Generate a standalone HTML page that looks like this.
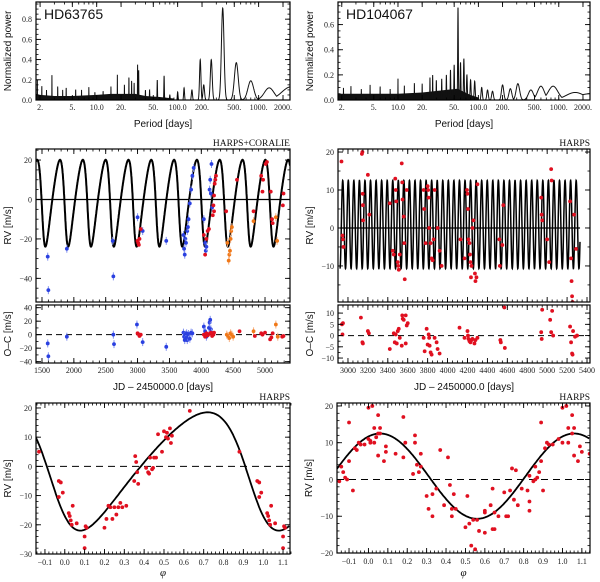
<!DOCTYPE html>
<html><head><meta charset="utf-8"><style>
body{margin:0;background:#fff}
svg{display:block}
.tk{font-family:"Liberation Serif",serif;font-size:8px;fill:#222}
.ax{font-family:"Liberation Sans",sans-serif;font-size:10px;fill:#111}
.hd{font-family:"Liberation Serif",serif;font-size:9.5px;fill:#111}
</style></head><body>
<svg id="fig" width="600" height="582" viewBox="0 0 600 582" xmlns="http://www.w3.org/2000/svg"></svg>
<script>
// ---------- DATA ----------
const pg1Env = [[1.8,0.06],[2,0.05],[3,0.04],[5,0.04],[10,0.05],[15,0.06],[20,0.06],[30,0.06],[40,0.04],[60,0.03],[90,0.015]];
const pg1Peaks = [[1.85,0.2],[2.1,0.15],[2.4,0.1],[2.8,0.25],[3.3,0.15],[3.8,0.1],[4.2,0.14],[5.5,0.12],[6.5,0.1],[8,0.13],[9.5,0.09],[12,0.1],[15,0.14],[18,0.25],[22,0.16],[25,0.24],[27,0.2],[29,0.17],[32,0.35],[33,0.3],[40,0.1],[45,0.1],[56,0.2],[68,0.24],[80,0.05],[100,0.08],[120,0.12],[150,0.1],[190,0.4],[210,0.15],[260,0.4],[360,0.91],[530,0.37],[800,0.19],[1350,0.12],[2500,0.13]];
const pg2Env = [[1.8,0.05],[10,0.05],[20,0.06],[40,0.08],[55,0.09],[80,0.04],[100,0.02]];
const pg2Peaks = [[2.1,0.1],[2.6,0.11],[3.5,0.1],[4.5,0.12],[6,0.12],[8,0.09],[10,0.17],[12,0.12],[16,0.14],[20,0.13],[25,0.18],[27,0.2],[30,0.16],[35,0.17],[40,0.2],[45,0.24],[50,0.28],[55.8,0.74],[60,0.3],[66,0.33],[72,0.2],[80,0.16],[90,0.15],[110,0.1],[130,0.08],[150,0.07],[200,0.12],[250,0.09],[310,0.13],[450,0.08],[600,0.11],[850,0.11],[1600,0.06],[2500,0.05]];

const blueT = [1590,1600,1890,2610,2620,3000,3080,3450,3720,3730,3740,3750,3760,3780,3790,3800,3820,3840,3860,3880,4040,4060,4070,4080,4130,4140,4150,4160,4170];
const blueRV = [-29,-46,-25,-21,-39,-9,-16,-21,-18,-25,-28,-20,-22,-16,-14,-10,-2,5,12,16,-10,-22,-26,-24,5,10,3,18,-4];
const redT = [3000,3010,3020,3030,3050,4040,4060,4080,4100,4120,4180,4190,4200,4200,4210,4220,4230,4390,4560,4820,4940,4960,4970,5010,5030,5090,5110,5120,5280,5290];
const redRV = [-21,-22,-23,-20,-15,-18,-28,-20,-16,-15,-8,-3,2,-6,8,10,12,-6,10,-6,12,4,10,18,19,4,-10,-12,-3,3];
const orT = [4410,4430,4440,4450,4460,4470,4480,4820,5170,5190];
const orRV = [-22,-31,-28,-26,-20,-16,-14,-11,-9,-21];
const blueResT = [1590,1600,1890,2620,2630,2990,3080,3450,3720,3730,3740,3750,3760,3770,3780,3790,3800,3820,3840,3860,4040,4060,4080,4120,4130,4140,4150,4160];
const blueRes = [-13,-32,-3,0,-14,15,-11,-18,3,-3,-8,0,-5,2,-8,-3,1,-6,3,2,12,5,-3,10,18,22,8,3];
const redResT = [3000,3010,3030,3050,4040,4060,4080,4100,4120,4150,4170,4190,4200,4600,4840,4940,4960,5000,5080,5100,5120,5270,5290];
const redRes = [2,1,-2,0,0,-3,2,-1,1,3,-2,0,3,5,-2,2,0,3,-7,-4,2,-3,-2];
const orResT = [4400,4420,4440,4460,4480,4500,4820,5170,5200];
const orRes = [0,-2,-5,2,0,-3,5,15,-3];

const hT = [2935,2945,2950,2955,3140,3145,3148,3150,3152,3200,3215,3420,3450,3460,3475,3480,3485,3500,3505,3510,3520,3540,3545,3548,3560,3565,3570,3590,3760,3765,3780,3800,3805,3810,3815,3830,3840,3850,3860,3870,3900,3920,3940,4130,4170,4195,4200,4205,4210,4220,4225,4230,4235,4240,4250,4260,4275,4280,4290,4300,4520,4525,4550,4560,4940,4945,4950,5000,5020,5040,5045,5230,5240,5245,5250,5255,5270,5290];
const hRV = [17.5,-2,-3,-5,19.5,20,9,6,2,14,3.5,6.5,-6,-7,13,10,7,-9,-10,-11,-7,17,12,7.5,3,-4,-13.5,10,10,5,-4,11,10,8,0,-4,-8,-8.5,-3,10,0,-6,-10,-3,-8,10,9,5,-3,-4,-7,-9,-13,-10,0,2,-12,-14,-13,11.5,-3,-10,-4.5,6,8,3.5,2,-3,-9,15.5,12.5,7,-8,-14,-18,-19.5,3.5,-5.5];
const hResT = [2940,2950,2945,3130,3145,3150,3200,3210,3420,3460,3470,3480,3490,3500,3510,3520,3540,3545,3550,3560,3580,3590,3600,3580,3760,3770,3790,3800,3810,3815,3820,3830,3840,3870,3890,3900,3920,4120,4170,4200,4205,4210,4220,4230,4240,4250,4270,4280,4300,4530,4535,4570,4575,4940,4945,4950,5030,5040,5050,5060,5230,5240,5250,5255,5260,5280,5300];
const hRes = [5,5.5,0.5,8,-3,-3.5,2,1,-6,1,-3,0.5,-3.5,2,3,-1,-4.5,9,7.5,7,9,4.5,5.5,-3.5,-1,-7,3,-4,0.5,-1,-4.5,-7.5,-8.5,-1,-3,-6,-8,3.5,-1,2,0,-1.5,-2.5,-3,-2,-1.5,-3.5,-2,-1,-2,-3,12.5,-5.5,1.5,-1.5,11.5,7,1.5,11,0,4,-3,-8,-8.5,2,-0.5,0];

const ph1 = [-0.13,-0.03,-0.02,-0.03,-0.01,0.02,0.025,0.03,0.035,0.04,0.06,0.1,0.1,0.105,0.11,0.2,0.21,0.22,0.23,0.24,0.25,0.26,0.27,0.28,0.29,0.31,0.35,0.355,0.36,0.365,0.37,0.41,0.42,0.425,0.43,0.44,0.445,0.45,0.46,0.47,0.49,0.5,0.51,0.515,0.52,0.53,0.535,0.54,0.63,0.88,0.97,0.98,0.98,0.99,1.02,1.025,1.03,1.035,1.04,1.06,1.1,1.1,1.105,1.11];
const ph1RV = [5,-5,-5.5,-10.5,-9,-16,-17,-18.5,-20,-13.5,-19.5,-28,-24,-20.5,-21,-21,-18,-13.5,-14,-18,-14,-16.5,-14,-12.5,-14,-13.5,-5,3.5,1.5,-2,-6,-0.5,-2,-2.5,3,-1,-0.5,3,3,11,5,12,10,11.5,9.5,13,8,10.5,19,5,-5,-5.5,-10.5,-9,-16,-17,-18.5,-20,-13.5,-19.5,-28,-24,-20.5,-21];
const ph2 = [-0.15,-0.14,-0.13,-0.12,-0.11,-0.1,-0.1,-0.08,-0.07,-0.06,-0.05,-0.04,-0.02,0.0,0.01,0.01,0.0,0.02,0.03,0.03,0.04,0.05,0.05,0.06,0.06,0.05,0.09,0.09,0.08,0.14,0.18,0.18,0.19,0.24,0.24,0.25,0.23,0.26,0.27,0.27,0.3,0.31,0.33,0.33,0.35,0.37,0.39,0.41,0.42,0.43,0.43,0.44,0.45,0.5,0.51,0.52,0.53,0.54,0.55,0.56,0.57,0.6,0.6,0.6,0.63,0.64,0.65,0.64,0.65,0.67,0.7,0.71,0.72,0.73,0.74,0.76,0.75,0.77,0.79,0.82,0.83,0.83,0.83,0.85,0.86,0.86,0.87,0.88,0.89,0.89,0.9,0.91,0.92,0.93,0.95,0.98,1.0,1.0,1.02,1.03,1.03,1.05,1.05,1.06,1.06,1.09,1.1,1.08,1.14];
const ph2RV = [-0.5,3.5,2,0.5,0,15.5,5,-3,8.5,8,10,9.5,9.5,11,10.5,10,19.5,20,14,10,11.5,17.5,12.5,14,12.5,6.5,9,7.5,5,7,17,6,10,12,10,4,1.5,2,3.5,7,-4.5,-8,-10,-4,-2.5,8,-7,6,-1.5,-8,-10,-4,-8,-13,-4.5,-12,-18,-11,-19,-11,-14,-9,-8.5,-14.5,-7,-2.5,-9,-13.5,-13.5,-10,-3.5,-10,-10,-3,3,2.5,-5.5,-7,-2.5,-3,-6,-8.5,1,-0.5,0,3.5,0.5,2,5,15.5,-3,8.5,10,9.5,9.5,11,10,19.5,20,14,10,17.5,12.5,14,6.5,9,7.5,5,7];

// orbital parameters (fit)
const fit1 = {P:358, e:0.24, w:111, Kt:22, Kp:20.25, phMax:0.72, tMax:1783};
const fit2 = {P:55.8, K:11.6, g:0.9, phMax:0.06, tRef:3000};
const baseline1 = 3800, baseline2 = 2400;

// ---------- HELPERS ----------
const NS='http://www.w3.org/2000/svg';
const svg=document.getElementById('fig');
function mk(tag,at,parent){const e=document.createElementNS(NS,tag);for(const k in at)e.setAttribute(k,at[k]);(parent||svg).appendChild(e);return e;}
function txt(x,y,s,cls,anchor,parent){const t=mk('text',{x:x,y:y,class:cls,'text-anchor':anchor||'middle'},parent);t.textContent=s;return t;}

function makeScale(d0,d1,r0,r1,log){
  if(log){const a=Math.log10(d0),b=Math.log10(d1);return v=>r0+(Math.log10(v)-a)/(b-a)*(r1-r0);}
  return v=>r0+(v-d0)/(d1-d0)*(r1-r0);
}
function frame(name,x0,y0,x1,y1){
  const g=mk('g',{});
  
  
  const c=mk('clipPath',{id:'c'+name},g);mk('rect',{x:x0,y:y0,width:x1-x0,height:y1-y0},c);
  return g;
}
function border(g,x0,y0,x1,y1){
  const r=mk('rect',{x:x0,y:y0,width:x1-x0,height:y1-y0,fill:'none',stroke:'#000','stroke-width':1.2},g);
  
  
}
function xticks(g,sx,y0,y1,majors,minors,labels,labelY,topTicks){
  minors.forEach(v=>{const x=sx(v);mk('line',{x1:x,x2:x,y1:y1,y2:y1-2.5,stroke:'#000','stroke-width':0.8},g);if(topTicks!==false)mk('line',{x1:x,x2:x,y1:y0,y2:y0+2.5,stroke:'#000','stroke-width':0.8},g);});
  majors.forEach((v,i)=>{const x=sx(v);mk('line',{x1:x,x2:x,y1:y1,y2:y1-5,stroke:'#000','stroke-width':0.9},g);if(topTicks!==false)mk('line',{x1:x,x2:x,y1:y0,y2:y0+5,stroke:'#000','stroke-width':0.9},g);
    if(labels){const t=txt(x,labelY,labels[i],'tk','middle',g);}});
}
function yticks(g,sy,x0,x1,majors,minors,labels){
  minors.forEach(v=>{const y=sy(v);mk('line',{x1:x0,x2:x0+2.5,y1:y,y2:y,stroke:'#000','stroke-width':0.8},g);mk('line',{x1:x1,x2:x1-2.5,y1:y,y2:y,stroke:'#000','stroke-width':0.8},g);});
  majors.forEach((v,i)=>{const y=sy(v);mk('line',{x1:x0,x2:x0+5,y1:y,y2:y,stroke:'#000','stroke-width':0.9},g);mk('line',{x1:x1,x2:x1-5,y1:y,y2:y,stroke:'#000','stroke-width':0.9},g);
    const t=txt(x0-4,y+3,labels[i],'tk','end',g);});
}
function range(a,b,s){const r=[];for(let v=a;v<=b+1e-9;v+=s)r.push(+v.toFixed(6));return r;}
function ytitle(x,y,s,name){const t=mk('text',{x:0,y:0,class:'ax','text-anchor':'middle',transform:`translate(${x},${y}) rotate(-90)`});t.textContent=s;}
function label(x,y,s,cls,anchor,name){const t=txt(x,y,s,cls,anchor);return t;}
function hline(g,sx,sy,x0,x1,v,dash,w,name){const l=mk('line',{x1:sx(x0),x2:sx(x1),y1:sy(v),y2:sy(v),stroke:'#000','stroke-width':w||1,'stroke-dasharray':dash||'none'},g);}
function points(g,sx,sy,xs,ys,col,ecol,err,name){
  xs.forEach((x,i)=>{const px=sx(x),py=sy(ys[i]);
    mk('line',{x1:px,x2:px,y1:py-err,y2:py+err,stroke:ecol,'stroke-width':1},g);
    const c=mk('circle',{cx:px,cy:py,r:1.9,fill:col},g);
    
    });
}
function logMinors(a,b){const r=[];for(let d=0;d<=4;d++)for(let k=1;k<10;k++){const v=k*Math.pow(10,d);if(v>=a&&v<=b)r.push(v);}return r;}

// Keplerian
function kep(M,e,w){let E=M;for(let i=0;i<30;i++)E=E-(E-e*Math.sin(E)-M)/(1-e*Math.cos(E));
  const nu=2*Math.atan(Math.sqrt((1+e)/(1-e))*Math.tan(E/2));return Math.cos(nu+w)+e*Math.cos(w);}
const W1=fit1.w*Math.PI/180;
let Mmax=0,vb=-9;for(let i=0;i<2000;i++){const M=i/2000*2*Math.PI;const v=kep(M,fit1.e,W1);if(v>vb){vb=v;Mmax=M;}}
function rv1(phase){const M=Mmax+2*Math.PI*(phase-fit1.phMax);return kep(((M%(2*Math.PI))+2*Math.PI)%(2*Math.PI),fit1.e,W1);}
function rv2(phase){return fit2.g+fit2.K*Math.cos(2*Math.PI*(phase-fit2.phMax));}

// ---------- PERIODOGRAMS ----------
function periodogram(name,x0,x1,y0,y1,d0,d1,ymax,env,peaks,T,yMaj,yLab,title){
  const g=frame(name,x0,y0,x1,y1);
  const sx=makeScale(d0,d1,x0,x1,true), sy=makeScale(0,ymax,y1,y0);
  const cg=mk('g',{'clip-path':`url(#c${name})`},g);
  let p=`M${sx(env[0][0])},${sy(0)} `+env.map(q=>`L${sx(q[0]).toFixed(1)},${sy(q[1]).toFixed(1)}`).join(' ')+` L${sx(env[env.length-1][0])},${sy(0)} Z`;
  const en=mk('path',{d:p,fill:'#111'},cg);
  // smooth peaks: width in log10 period ~ P/(T ln10)
  const a=Math.log10(d0),b=Math.log10(d1);let d='';
  for(let i=0;i<=3000;i++){const lp=a+(b-a)*i/3000;let v=0;
    peaks.forEach(q=>{const w=Math.max(q[0]/(T*2.3026)*0.55,0.0012);const z=(lp-Math.log10(q[0]))/w;const s=q[1]*Math.exp(-z*z);if(s>v)v=s;});
    d+=(d?'L':'M')+(x0+(x1-x0)*i/3000).toFixed(2)+','+sy(v).toFixed(2);}
  const ln=mk('path',{d:d,fill:'none',stroke:'#111','stroke-width':1},cg);
  const maj=[2,5,10,20,50,100,200,500,1000,2000],labs=['2.','5.','10.0','20.','50.','100.0','200.','500.','1000.','2000.'];
  xticks(g,sx,y0,y1,maj,logMinors(d0,d1),labs,y1+10);
  yticks(g,sy,x0,x1,yMaj,range(0,ymax,0.05),yLab);
  border(g,x0,y0,x1,y1);
  label(x0+8,y0+17,title,'ax','start','star-name').setAttribute('style','font-size:14px');
  label((x0+x1)/2,y1+27,'Period [days]','ax','middle','x-axis-title');
  ytitle(x0-25,(y0+y1)/2,'Normalized power','y-axis-title');
}
periodogram('periodogram-hd63765',36,290,2,100,1.78,2440,0.97,pg1Env,pg1Peaks,baseline1,[0,0.2,0.4,0.6,0.8],['0.0','0.2','0.4','0.6','0.8'],'HD63765');
periodogram('periodogram-hd104067',338,590,2,100,1.795,2446,0.78,pg2Env,pg2Peaks,baseline2,[0,0.2,0.4,0.6],['0.0','0.2','0.4','0.6'],'HD104067');

// ---------- RV TIME SERIES ----------
const RED='#e01020',REDE='#f08080',BLUE='#2a40e0',BLUEE='#8090f0',OR='#f07818',ORE='#f8b080';
(function(){
  const x0=36,x1=290,y0=149,y1=302,t0=1406,t1=5392;
  const g=frame('rv-hd63765',x0,y0,x1,y1);
  const sx=makeScale(t0,t1,x0,x1),sy=makeScale(-52,25.6,y1,y0);
  const cg=mk('g',{'clip-path':'url(#crv-hd63765)'},g);
  hline(cg,sx,sy,t0,t1,0,null,1.2,'zero-line');
  let d='';for(let t=t0;t<=t1;t+=2){const v=fit1.Kt*rv1((t-fit1.tMax)/fit1.P+fit1.phMax);d+=(d?'L':'M')+sx(t).toFixed(1)+','+sy(v).toFixed(1);}
  const c=mk('path',{d:d,fill:'none',stroke:'#000','stroke-width':2},cg);
  points(cg,sx,sy,blueT,blueRV,BLUE,BLUEE,4,'coralie98-point');
  points(cg,sx,sy,orT,orRV,OR,ORE,4,'coralie07-point');
  points(cg,sx,sy,redT,redRV,RED,REDE,1.5,'harps-point');
  xticks(g,sx,y0,y1,range(1500,5000,500),range(1500,5300,100),null,0);
  yticks(g,sy,x0,x1,[-40,-20,0,20],range(-50,25,5),['−40','−20','0','20']);
  border(g,x0,y0,x1,y1);
  ytitle(11,(y0+y1)/2,'RV [m/s]','y-axis-title');
  label(290,146,'HARPS+CORALIE','hd','end','instrument-label');
  const r0=305,r1=363;
  const g2=frame('oc-hd63765',x0,r0,x1,r1);
  const sy2=makeScale(-42,44,r1,r0);
  const cg2=mk('g',{'clip-path':'url(#coc-hd63765)'},g2);
  hline(cg2,sx,sy2,t0,t1,0,'6,4',1,'zero-line');
  points(cg2,sx,sy2,blueResT,blueRes,BLUE,BLUEE,4,'residual-point');
  points(cg2,sx,sy2,orResT,orRes,OR,ORE,4,'residual-point');
  points(cg2,sx,sy2,redResT,redRes,RED,REDE,1.5,'residual-point');
  xticks(g2,sx,r0,r1,range(1500,5000,500),range(1500,5300,100),['1500','2000','2500','3000','3500','4000','4500','5000'],r1+10);
  yticks(g2,sy2,x0,x1,[-40,-20,0,20,40],range(-40,40,10),['−40','−20','0','20','40']);
  border(g2,x0,r0,x1,r1);
  ytitle(11,(r0+r1)/2,'O–C [m/s]','y-axis-title');
  label((x0+x1)/2,390,'JD – 2450000.0 [days]','ax','middle','x-axis-title');
})();
(function(){
  const x0=338,x1=590,y0=149,y1=302,t0=2900,t1=5430;
  const g=frame('rv-hd104067',x0,y0,x1,y1);
  const sx=makeScale(t0,t1,x0,x1),sy=makeScale(-19.5,20.8,y1,y0);
  const cg=mk('g',{'clip-path':'url(#crv-hd104067)'},g);
  let d='';for(let t=2920;t<=5330;t+=0.7){const v=rv2((t-fit2.tRef)/fit2.P);d+=(d?'L':'M')+sx(t).toFixed(2)+','+sy(v).toFixed(1);}
  const c=mk('path',{d:d,fill:'none',stroke:'#000','stroke-width':1.5},cg);
  hline(cg,sx,sy,2920,5330,0,null,1.2,'zero-line');
  points(cg,sx,sy,hT,hRV,RED,REDE,1,'harps-point');
  xticks(g,sx,y0,y1,range(3000,5400,200),range(2900,5400,50),null,0);
  yticks(g,sy,x0,x1,[-10,0,10,20],range(-15,20,5),['−10','0','10','20']);
  border(g,x0,y0,x1,y1);
  ytitle(313,(y0+y1)/2,'RV [m/s]','y-axis-title');
  label(590,146,'HARPS','hd','end','instrument-label');
  const r0=305,r1=363;
  const g2=frame('oc-hd104067',x0,r0,x1,r1);
  const sy2=makeScale(-12.2,13.6,r1,r0);
  const cg2=mk('g',{'clip-path':'url(#coc-hd104067)'},g2);
  hline(cg2,sx,sy2,t0,t1,0,'6,4',1,'zero-line');
  points(cg2,sx,sy2,hResT,hRes,RED,REDE,1,'residual-point');
  xticks(g2,sx,r0,r1,range(3000,5400,200),range(2900,5400,50),range(3000,5400,200).map(String),r1+10);
  yticks(g2,sy2,x0,x1,[-10,-5,0,5,10],range(-10,10,2.5),['−10','−5','0','5','10']);
  border(g2,x0,r0,x1,r1);
  ytitle(313,(r0+r1)/2,'O–C [m/s]','y-axis-title');
  label((x0+x1)/2,390,'JD – 2450000.0 [days]','ax','middle','x-axis-title');
})();

// ---------- PHASE-FOLDED ----------
function phasePanel(name,x0,x1,y0,y1,p0,p1,v0,v1,fn,xs,ys,yMaj,yLab,yMin){
  const g=frame(name,x0,y0,x1,y1);
  const sx=makeScale(p0,p1,x0,x1),sy=makeScale(v0,v1,y1,y0);
  const cg=mk('g',{'clip-path':`url(#c${name})`},g);
  hline(cg,sx,sy,p0,p1,0,'7,5',1,'zero-line');
  let d='';for(let p=p0;p<=p1;p+=0.004){d+=(d?'L':'M')+sx(p).toFixed(1)+','+sy(fn(p)).toFixed(1);}
  const c=mk('path',{d:d,fill:'none',stroke:'#000','stroke-width':1.8},cg);
  points(cg,sx,sy,xs,ys,RED,REDE,1.5,'harps-point');
  const maj=range(-0.1,1.1,0.1);
  xticks(g,sx,y0,y1,maj,range(-0.14,1.14,0.02),maj.map(v=>v.toFixed(1).replace('-','−')),y1+11);
  yticks(g,sy,x0,x1,yMaj,yMin,yLab);
  border(g,x0,y0,x1,y1);
  label(x1,y0-3,'HARPS','hd','end','instrument-label');
  label((x0+x1)/2,576,'φ','hd','middle','x-axis-title').setAttribute('style','font-size:11px;font-style:italic');
  ytitle(x0-25,(y0+y1)/2,'RV [m/s]','y-axis-title');
}
phasePanel('phase-hd63765',36,290,403,554,-0.145,1.135,-30,21.7,p=>fit1.Kp*rv1(p),ph1,ph1RV,[-30,-20,-10,0,10,20],['−30','−20','−10','0','10','20'],range(-30,20,2));
phasePanel('phase-hd104067',337,590,403,553,-0.162,1.142,-20,20.8,rv2,ph2,ph2RV,[-20,-10,0,10,20],['−20','−10','0','10','20'],range(-20,20,2));
</script>
</body></html>
